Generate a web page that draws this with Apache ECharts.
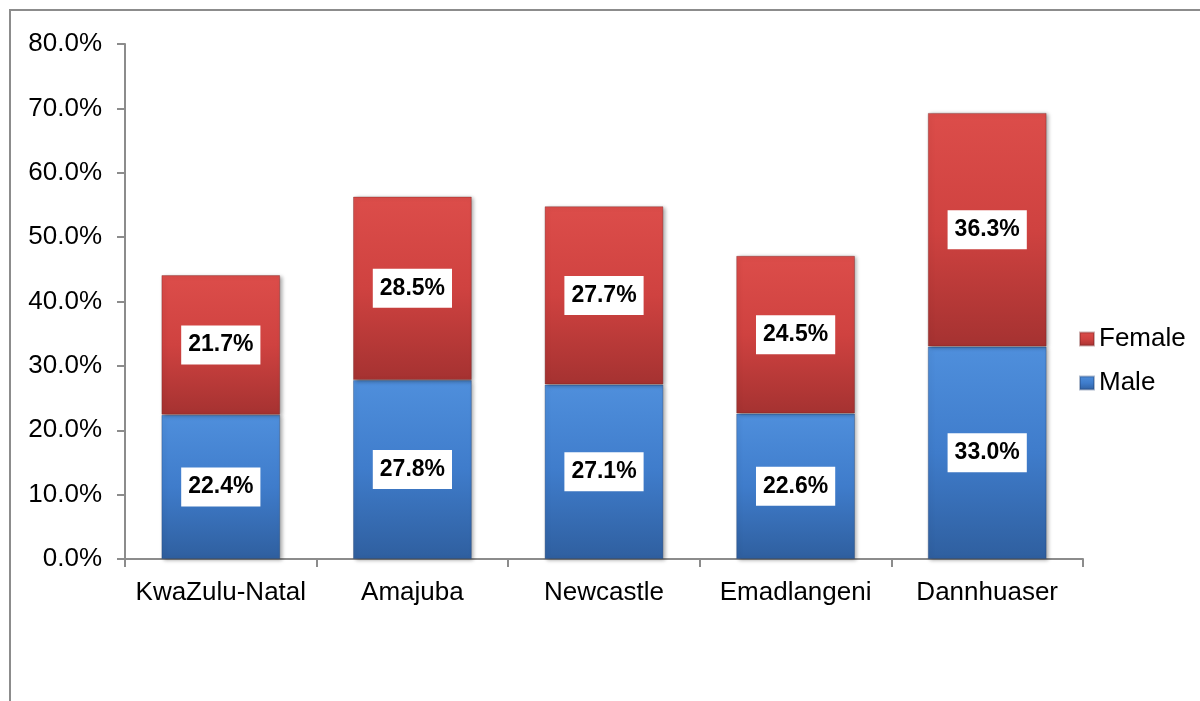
<!DOCTYPE html>
<html>
<head>
<meta charset="utf-8">
<script src="https://cdn.jsdelivr.net/npm/echarts@6/dist/echarts.min.js"></script>
<style>
  html, body { margin: 0; padding: 0; background: #fff; }
  #chart { width: 1200px; height: 701px; }
</style>
</head>
<body>
<div id="chart"></div>
<script>
// Share of population by area, split by sex (percent)
const categories = ['KwaZulu-Natal', 'Amajuba', 'Newcastle', 'Emadlangeni', 'Dannhuaser'];
const maleValues = [22.4, 27.8, 27.1, 22.6, 33.0];
const femaleValues = [21.7, 28.5, 27.7, 24.5, 36.3];
const yTicks = { min: 0, max: 80, interval: 10 };

const FONT = "'Liberation Sans', Arial, sans-serif";

function barFill(top, mid, bottom) {
  return new echarts.graphic.LinearGradient(0, 0, 0, 1, [
    { offset: 0, color: top },
    { offset: 0.5, color: mid },
    { offset: 1, color: bottom }
  ]);
}

const valueLabel = {
  show: true,
  position: 'inside',
  formatter: p => p.value.toFixed(1) + '%',
  fontFamily: FONT,
  fontWeight: 'bold',
  fontSize: 23,
  lineHeight: 23,
  color: '#000',
  backgroundColor: '#fff',
  padding: [8, 7, 8, 7]
};

const barShadow = {
  shadowColor: 'rgba(0,0,0,0.35)',
  shadowBlur: 4,
  shadowOffsetX: 2,
  shadowOffsetY: 1
};

const chart = echarts.init(document.getElementById('chart'), null, { renderer: 'canvas' });
chart.setOption({
  animation: false,
  graphic: [{
    type: 'rect',
    shape: { x: 10, y: 10, width: 1300, height: 800 },
    style: { fill: 'none', stroke: '#8c8c8c', lineWidth: 2 },
    silent: true
  }],
  grid: { left: 125, top: 44, width: 958, height: 515, containLabel: false },
  legend: {
    orient: 'vertical',
    left: 1074,
    top: 321,
    icon: 'rect',
    itemWidth: 14,
    itemHeight: 13,
    itemGap: 18,
    data: ['Female', 'Male'],
    textStyle: { fontFamily: FONT, fontSize: 26, color: '#000' }
  },
  xAxis: {
    type: 'category',
    data: categories,
    axisLine: { lineStyle: { color: '#8c8c8c', width: 2 } },
    axisTick: { show: true, interval: 0, length: 8, lineStyle: { color: '#8c8c8c', width: 2 } },
    axisLabel: { interval: 0, fontFamily: FONT, fontSize: 26, color: '#000', margin: 21 }
  },
  yAxis: {
    type: 'value',
    min: yTicks.min,
    max: yTicks.max,
    interval: yTicks.interval,
    splitLine: { show: false },
    axisLine: { show: true, lineStyle: { color: '#8c8c8c', width: 2 } },
    axisTick: { show: true, length: 8, lineStyle: { color: '#8c8c8c', width: 2 } },
    axisLabel: { fontFamily: FONT, fontSize: 26, color: '#000', margin: 23, formatter: v => v.toFixed(1) + '%' }
  },
  series: [
    {
      name: 'Male',
      type: 'bar',
      stack: 'total',
      barWidth: '62%',
      data: maleValues,
      itemStyle: Object.assign({
        color: barFill('#4f8fdc', '#3f7ccb', '#2f5f9f'),
        borderColor: 'rgba(30,60,110,0.35)',
        borderWidth: 1
      }, barShadow),
      label: valueLabel
    },
    {
      name: 'Female',
      type: 'bar',
      stack: 'total',
      barWidth: '62%',
      data: femaleValues,
      itemStyle: Object.assign({
        color: barFill('#dc4d4a', '#cf4240', '#a53231'),
        borderColor: 'rgba(110,30,30,0.35)',
        borderWidth: 1
      }, barShadow),
      label: valueLabel
    }
  ]
});
</script>
</body>
</html>
